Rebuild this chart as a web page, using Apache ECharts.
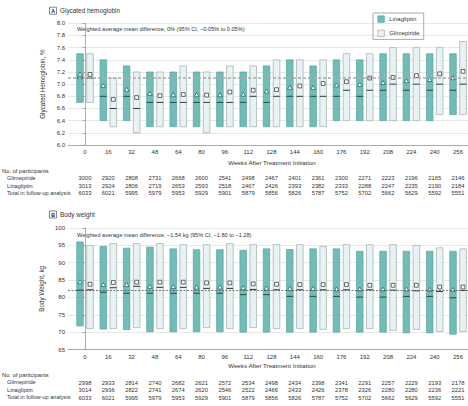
<!DOCTYPE html>
<html><head><meta charset="utf-8">
<script src="https://cdn.jsdelivr.net/npm/echarts@6/dist/echarts.min.js"></script>
<style>html,body{margin:0;padding:0;background:#fff}#c{width:468px;height:406px}</style>
</head><body><div id="c"></div>
<script>
// ---------- data ----------
const weeks = [0,16,32,48,64,80,96,112,128,144,160,176,192,208,224,240,256];

// Panel A: glycated hemoglobin (%)
const hbaLinaLow  = [6.7,6.4,6.4,6.3,6.3,6.3,6.3,6.3,6.3,6.3,6.3,6.4,6.4,6.4,6.4,6.4,6.5];
const hbaLinaHigh = [7.5,7.4,7.3,7.2,7.2,7.2,7.2,7.2,7.3,7.4,7.3,7.4,7.4,7.5,7.5,7.5,7.5];
const hbaLinaMed  = [7.1,6.8,6.8,6.7,6.7,6.7,6.7,6.7,6.7,6.8,6.8,6.8,6.8,6.9,6.9,6.9,6.9];
const hbaLinaMean = [7.16,6.97,6.91,6.84,6.82,6.82,6.82,6.83,6.88,6.94,6.94,6.98,6.99,7.02,7.05,7.07,7.10];
const hbaGlimLow  = [6.7,6.3,6.2,6.3,6.3,6.2,6.3,6.3,6.3,6.3,6.3,6.4,6.4,6.4,6.4,6.5,6.5];
const hbaGlimHigh = [7.5,7.1,7.2,7.2,7.3,7.2,7.3,7.3,7.4,7.4,7.4,7.5,7.5,7.6,7.6,7.6,7.7];
const hbaGlimMed  = [7.1,6.6,6.6,6.7,6.7,6.7,6.7,6.8,6.8,6.8,6.8,6.9,6.9,7.0,7.0,7.0,7.0];
const hbaGlimMean = [7.16,6.75,6.78,6.81,6.83,6.82,6.87,6.90,6.91,6.97,7.01,7.04,7.10,7.11,7.14,7.17,7.21];
const hbaRef = 7.1;

// Panel B: body weight (kg)
const bwLinaLow  = [71.8,70.9,70.7,70.1,70.1,70.1,70.1,70.0,70.0,70.0,70.0,70.0,70.0,70.0,69.8,69.8,69.4];
const bwLinaHigh = [96.0,94.7,94.2,94.5,94.0,93.75,93.75,93.6,94.0,93.8,94.0,94.0,93.3,93.3,93.3,93.3,93.3];
const bwLinaMed  = [82.1,81.5,81.2,81.2,81.2,81.2,81.2,80.8,80.8,80.3,80.3,80.3,80.1,80.1,80.3,80.3,79.9];
const bwLinaMean = [84.4,83.6,83.6,83.1,83.0,82.9,82.9,82.7,82.6,82.5,82.5,82.3,82.3,82.3,82.3,82.2,82.2];
const bwGlimLow  = [71.0,71.0,71.3,71.0,71.0,71.3,71.0,71.3,71.0,71.0,70.8,71.0,71.0,70.5,70.8,70.2,70.2];
const bwGlimHigh = [95.0,95.5,95.5,95.5,95.2,95.2,95.5,95.2,95.2,95.2,94.7,95.2,95.2,95.2,95.0,94.3,94.0];
const bwGlimMed  = [82.2,82.8,83.2,82.9,82.9,82.6,82.6,82.3,82.2,82.2,82.2,82.2,82.2,82.1,81.9,81.7,82.0];
const bwGlimMean = [83.8,84.3,84.4,84.4,84.4,84.2,84.2,83.9,83.8,83.7,83.7,83.7,83.5,83.5,83.5,83.0,83.0];
const bwRef = 82;

// Participants tables
const nA_Glim  = [3000,2920,2808,2731,2668,2600,2541,2498,2467,2401,2361,2300,2271,2223,2196,2165,2146];
const nA_Lina  = [3013,2924,2806,2719,2653,2593,2518,2467,2426,2393,2382,2333,2288,2247,2235,2190,2184];
const nA_Total = [6033,6021,5995,5979,5953,5929,5901,5879,5856,5826,5787,5752,5702,5662,5629,5592,5551];
const nB_Glim  = [2998,2933,2814,2740,2682,2621,2572,2534,2498,2434,2398,2341,2291,2257,2229,2193,2178];
const nB_Lina  = [3014,2936,2822,2741,2674,2620,2546,2522,2466,2433,2426,2378,2326,2280,2280,2236,2221];
const nB_Total = [6033,6021,5995,5979,5953,5929,5901,5879,5856,5826,5787,5752,5702,5662,5629,5592,5551];

const rowLabels = ['Glimepiride','Linagliptin','Total in follow-up analysis'];
const textA = 'Weighted average mean difference, 0% (95% CI, \u22120.05% to 0.05%)';
const textB = 'Weighted average mean difference, \u22121.54 kg (95% CI, \u22121.80 to \u22121.28)';

// ---------- styling ----------
const FONT = '"Liberation Sans", Arial, sans-serif';
const TXT = '#333';
const LINA_FILL = '#72bcb7', LINA_STROKE = '#58a6a1', LINA_MED = '#1e4d4b', LINA_MARK = '#2a6b68';
const GLIM_FILL = '#e7f2f2', GLIM_STROKE = '#a3acac', GLIM_MED = '#2e3a3a', GLIM_MARK = '#444';
const XMIN = -11.67, XMAX = 262.86;

const chart = echarts.init(document.getElementById('c'), null, {renderer: 'svg'});

function rows(lo, hi, med, mean) {
  return weeks.map((w, i) => [w, lo[i], hi[i], med[i], mean[i]]);
}

function makeRender(side, isLina) {
  return function (params, api) {
    const w = api.value(0);
    const pLo = api.coord([w, api.value(1)]);
    const pHi = api.coord([w, api.value(2)]);
    const pMed = api.coord([w, api.value(3)]);
    const pMean = api.coord([w, api.value(4)]);
    const bw = 6.6;
    const cx = pLo[0] + side * 5;
    const x0 = cx - bw / 2;
    const my = pMean[1];
    const marker = isLina
      ? {type: 'polygon', shape: {points: [[cx, my - 2.4], [cx - 2.3, my + 1.6], [cx + 2.3, my + 1.6]]},
         style: {fill: '#fff', stroke: LINA_MARK, lineWidth: 0.8}}
      : {type: 'rect', shape: {x: cx - 1.9, y: my - 1.9, width: 3.8, height: 3.8},
         style: {fill: '#fff', stroke: GLIM_MARK, lineWidth: 0.8}};
    return {
      type: 'group',
      children: [
        {type: 'rect', shape: {x: x0, y: pHi[1], width: bw, height: pLo[1] - pHi[1]},
         style: {fill: isLina ? LINA_FILL : GLIM_FILL, stroke: isLina ? LINA_STROKE : GLIM_STROKE, lineWidth: 0.7}},
        {type: 'line', shape: {x1: x0, y1: pMed[1], x2: x0 + bw, y2: pMed[1]},
         style: {stroke: isLina ? LINA_MED : GLIM_MED, lineWidth: 1}},
        marker
      ]
    };
  };
}

function mainX(grid) {
  return {
    gridIndex: grid, type: 'value', min: XMIN, max: XMAX, position: 'bottom',
    axisLine: {show: true, onZero: false, lineStyle: {color: '#999', width: 0.8}},
    axisTick: {show: false}, splitLine: {show: false},
    axisLabel: {customValues: weeks, fontSize: 6, color: TXT, fontFamily: FONT, margin: 4}
  };
}
function countX(grid, counts, offset) {
  return {
    gridIndex: grid, type: 'value', min: XMIN, max: XMAX, position: 'bottom', offset: offset,
    axisLine: {show: false}, axisTick: {show: false}, splitLine: {show: false},
    axisLabel: {customValues: weeks, fontSize: 5.8, color: TXT, fontFamily: FONT, margin: 0,
      verticalAlign: 'middle', formatter: v => String(counts[weeks.indexOf(v)])}
  };
}

const yCommon = {
  type: 'value',
  axisLine: {show: true, lineStyle: {color: '#999', width: 0.8}},
  axisTick: {show: true, length: 2.5, lineStyle: {color: '#999', width: 0.8}},
  splitLine: {show: true, lineStyle: {color: '#e2e2e2', width: 0.8}},
  nameLocation: 'middle',
  nameTextStyle: {fontSize: 6.3, color: TXT, fontFamily: FONT}
};

function mark(val, color, width, dash) {
  return {silent: true, symbol: 'none', label: {show: false}, z: 10,
    lineStyle: {color: color, width: width, type: dash}, data: [{yAxis: val}]};
}

function txt(x, y, s, size, extra) {
  return Object.assign({type: 'text', x: x, y: y,
    style: {text: s, fontSize: size, fontFamily: FONT, fill: TXT, verticalAlign: 'middle', align: 'left'}}, extra || {});
}
function panelTitle(y, letter, title) {
  return [
    {type: 'rect', shape: {x: 49.5, y: y - 3.5, width: 7, height: 7}, style: {fill: '#fff', stroke: '#555', lineWidth: 0.7}},
    {type: 'text', x: 53, y: y, style: {text: letter, fontSize: 5.2, fontWeight: 'bold', fontFamily: FONT, fill: '#222', align: 'center', verticalAlign: 'middle'}},
    txt(60, y, title, 6.4)
  ];
}
function tableLabels(yTop) {
  return [
    txt(2, yTop, 'No. of participants', 5.8),
    txt(7, yTop + 7.3, rowLabels[0], 5.7),
    txt(7, yTop + 14.8, rowLabels[1], 5.7),
    txt(7, yTop + 22.4, rowLabels[2], 5.6)
  ];
}

const option = {
  animation: false,
  textStyle: {fontFamily: FONT},
  grid: [
    {left: 68, right: 0, top: 23.3, height: 121.7},
    {left: 68, right: 0, top: 228, height: 121.5}
  ],
  xAxis: [
    mainX(0), countX(0, nA_Glim, 33), countX(0, nA_Lina, 40.6), countX(0, nA_Total, 48.2),
    mainX(1), countX(1, nB_Glim, 33.2), countX(1, nB_Lina, 40.6), countX(1, nB_Total, 48.2)
  ],
  yAxis: [
    Object.assign({}, yCommon, {gridIndex: 0, min: 6, max: 8, interval: 0.2, name: 'Glycated Hemoglobin, %', nameGap: 17,
      axisLabel: {fontSize: 6, color: TXT, fontFamily: FONT, margin: 3, formatter: v => v.toFixed(1)}}),
    Object.assign({}, yCommon, {gridIndex: 1, min: 65, max: 100, interval: 5, name: 'Body Weight, kg', nameGap: 17,
      axisLabel: {fontSize: 6, color: TXT, fontFamily: FONT, margin: 3}})
  ],
  legend: {
    left: 373, top: 13, orient: 'horizontal', selectedMode: false,
    itemWidth: 6.5, itemHeight: 6.5, itemGap: 7,
    padding: [2.5, 4, 2.5, 4.5],
    borderColor: '#888', borderWidth: 0.7,
    textStyle: {fontSize: 6, color: TXT, fontFamily: FONT},
    data: [
      {name: 'Linagliptin', icon: 'rect', itemStyle: {color: LINA_FILL, borderColor: LINA_STROKE, borderWidth: 0.7}},
      {name: 'Glimepiride', icon: 'rect', itemStyle: {color: GLIM_FILL, borderColor: GLIM_STROKE, borderWidth: 0.7}}
    ]
  },
  series: [
    {name: 'Linagliptin', type: 'custom', xAxisIndex: 0, yAxisIndex: 0, itemStyle: {color: LINA_FILL},
     renderItem: makeRender(-1, true), data: rows(hbaLinaLow, hbaLinaHigh, hbaLinaMed, hbaLinaMean),
     encode: {x: 0, y: [1, 2, 3, 4]}},
    {name: 'Glimepiride', type: 'custom', xAxisIndex: 0, yAxisIndex: 0, itemStyle: {color: GLIM_FILL},
     renderItem: makeRender(1, false), data: rows(hbaGlimLow, hbaGlimHigh, hbaGlimMed, hbaGlimMean),
     encode: {x: 0, y: [1, 2, 3, 4]}, markLine: mark(hbaRef, '#aaa', 1.5, [3, 2])},
    {name: 'Linagliptin', type: 'custom', xAxisIndex: 4, yAxisIndex: 1, itemStyle: {color: LINA_FILL},
     renderItem: makeRender(-1, true), data: rows(bwLinaLow, bwLinaHigh, bwLinaMed, bwLinaMean),
     encode: {x: 0, y: [1, 2, 3, 4]}},
    {name: 'Glimepiride', type: 'custom', xAxisIndex: 4, yAxisIndex: 1, itemStyle: {color: GLIM_FILL},
     renderItem: makeRender(1, false), data: rows(bwGlimLow, bwGlimHigh, bwGlimMed, bwGlimMean),
     encode: {x: 0, y: [1, 2, 3, 4]}, markLine: mark(bwRef, '#555', 0.8, [2, 1.5])}
  ],
  graphic: [
    ...panelTitle(10.7, 'A', 'Glycated hemoglobin'),
    txt(77, 29, textA, 5.6),
    {type: 'text', x: 272, y: 162.3, style: {text: 'Weeks After Treatment Initiation', fontSize: 6.2, fontFamily: FONT, fill: TXT, align: 'center', verticalAlign: 'middle'}},
    ...tableLabels(171),
    ...panelTitle(214.5, 'B', 'Body weight'),
    txt(77, 235, textB, 5.6),
    {type: 'text', x: 272, y: 365, style: {text: 'Weeks After Treatment Initiation', fontSize: 6.2, fontFamily: FONT, fill: TXT, align: 'center', verticalAlign: 'middle'}},
    ...tableLabels(374.7)
  ]
};
chart.setOption(option);
</script>
</body></html>
